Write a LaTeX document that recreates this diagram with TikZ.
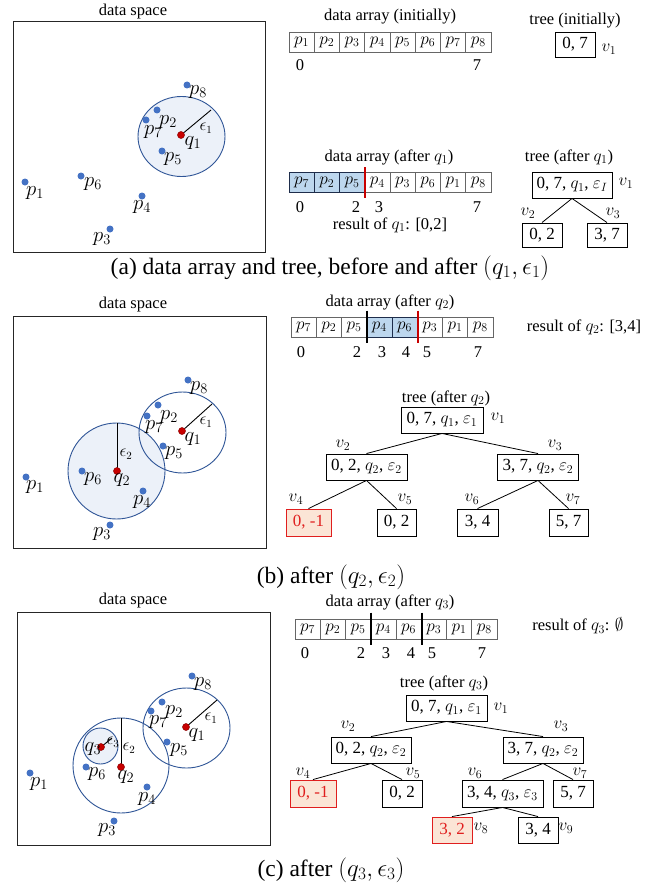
\documentclass[tikz,border=0pt]{standalone}
\usepackage{fontspec}
\setmainfont{Liberation Serif}
\usetikzlibrary{calc}

\definecolor{dotblue}{RGB}{68,114,196}
\definecolor{qred}{RGB}{200,0,0}
\definecolor{ballline}{RGB}{47,85,151}
\definecolor{ballfill}{RGB}{236,241,249}
\definecolor{cellblue}{RGB}{189,215,238}
\definecolor{cellnavy}{RGB}{30,45,75}
\definecolor{boxred}{RGB}{224,30,30}
\definecolor{boxfill}{RGB}{251,229,214}

\newcommand\fsz[1]{\fontsize{#1}{#1}\selectfont}

\tikzset{
  ttl/.style={font=\fsz{16.5}, inner sep=0},
  idx/.style={font=\fsz{16.5}, inner sep=0, text height=11, text depth=0},
  plab/.style={font=\fsz{20}, inner sep=0},
  elab/.style={font=\fsz{16}, inner sep=0},
  dot/.style={circle, fill=dotblue, inner sep=0, minimum size=7},
  qdot/.style={circle, fill=qred, draw=qred!70!black, line width=0.5, inner sep=0, minimum size=7},
  spacebox/.style={draw=black!85, line width=1},
  ball/.style={draw=ballline, line width=0.9},
  ballin/.style={fill=ballfill},
  rline/.style={line width=0.9},
  cell/.style={draw=black!60, line width=0.7, minimum width=25.25, minimum height=20, inner sep=0, font=\fsz{18}},
  hcell/.style={cell, fill=cellblue, draw=cellnavy, line width=0.9},
  tnode/.style={draw, line width=0.9, minimum height=26, inner sep=2, font=\fsz{17}},
  rnode/.style={tnode, draw=boxred, fill=boxfill, text=boxred},
  vlab/.style={font=\fsz{17}, inner sep=0},
  subcap/.style={font=\fsz{23.5}, inner sep=0},
  tedge/.style={line width=0.8},
  cutline/.style={line width=2},
  redcut/.style={cutline, draw=qred}
}

\begin{document}
\begin{tikzpicture}[x=1pt, y=-1pt]
\useasboundingbox[fill=white] (0,0) rectangle (662,888);

% ================= (a) =================
\node[ttl] (a-ds) at (133,12) {data space};
\draw[spacebox] (13,22) rectangle (265,252);
\fill[ballin] (181.5,136.5) ellipse [x radius=43.5pt, y radius=40pt];
\draw[ball] (181.5,136.5) ellipse [x radius=43.5pt, y radius=40pt];
\coordinate (a-e1) at (211,110);
\node[dot] (a-p8) at (187,85) {};
\node[dot] (a-p2) at (157,110) {};
\node[dot] (a-p7) at (146,120) {};
\node[dot] (a-p5) at (162,151) {};
\node[dot] (a-p6) at (81,176) {};
\node[dot] (a-p1) at (25,182) {};
\node[dot] (a-p4) at (142,196) {};
\node[dot] (a-p3) at (110,229) {};
\draw[rline] (181,135) -- (a-e1);
\node[qdot] (a-q1) at (181,135) {};
\node[plab] (a-l8) at (198,92) {$p_8$};
\node[plab] (a-l2) at (168,122) {$p_2$};
\node[plab] (a-l7) at (153,132) {$p_7$};
\node[plab] (a-lq1) at (193,143) {$q_1$};
\node[elab] (a-le1) at (206,128) {$\epsilon_1$};
\node[plab] (a-l5) at (173,159) {$p_5$};
\node[plab] (a-l6) at (93,184) {$p_6$};
\node[plab] (a-l1) at (35,193) {$p_1$};
\node[plab] (a-l4) at (142,207) {$p_4$};
\node[plab] (a-l3) at (102,239) {$p_3$};

% initial array
\node[ttl] (a-t1) at (390,17) {data array (initially)};
\foreach \lab [count=\i from 0] in {1,2,3,4,5,6,7,8}
  \node[cell] (a-x\i) at ({289+12.625+25.25*\i},42) {$p_{\lab}$};
\node[idx] (a-i0) at (300,65) {0};
\node[idx] (a-i7) at (477,65) {7};

% initial tree
\node[ttl] (a-t2) at (575,21) {tree (initially)};
\node[tnode, minimum width=40, minimum height=25] (a-r0) at (575,44.5) {0, 7};
\node[vlab] (a-v0) at (609,49) {$v_1$};

% array after q1
\node[ttl] (a-t3) at (389,157) {data array (after $q_1$)};
\foreach \lab/\st [count=\i from 0] in {7/hcell,2/hcell,5/hcell,4/cell,3/cell,6/cell,1/cell,8/cell}
  \node[\st] (a-y\i) at ({289+12.625+25.25*\i},182.5) {$p_{\lab}$};
\draw[redcut] ($(a-y2.north east)+(0,-5)$) -- ($(a-y2.south east)+(0,5)$);
\node[idx] (a-j0) at (300,207) {0};
\node[idx] (a-j2) at (356,207) {2};
\node[idx] (a-j3) at (379,207) {3};
\node[idx] (a-j7) at (477,207) {7};
\node[ttl] (a-res) at (390,225) {result of $q_1$: [0,2]};

% tree after q1
\node[ttl] (a-t4) at (569,157) {tree (after $q_1$)};
\node[tnode, minimum width=80] (a-r) at (572,185) {0, 7, $q_1$, $\varepsilon_I$};
\node[tnode, minimum width=40, minimum height=24] (a-r2) at (542,235) {0, 2};
\node[tnode, minimum width=40, minimum height=24] (a-r3) at (607,235) {3, 7};
\draw[tedge] (a-r.south) -- (a-r2.north);
\draw[tedge] (a-r.south) -- (a-r3.north);
\node[vlab] (a-v1) at (626,183) {$v_1$};
\node[vlab] (a-v2) at (528,213) {$v_2$};
\node[vlab] (a-v3) at (613,213) {$v_3$};

\node[subcap] (a-cap) at (330,268) {(a) data array and tree, before and after $(q_1, \epsilon_1)$};

% ================= (b) =================
\node[ttl] (b-ds) at (133,305) {data space};
\draw[spacebox] (13,316) rectangle (266,548);
\fill[ballin] (116.5,471) ellipse [x radius=48.5pt, y radius=48pt];
\draw[ball] (182.5,432.5) ellipse [x radius=43.5pt, y radius=40.5pt];
\draw[ball] (116.5,471) ellipse [x radius=48.5pt, y radius=48pt];
\coordinate (b-e1) at (212,404);
\coordinate (b-e2) at (117,423);
\node[dot] (b-p8) at (188,380) {};
\node[dot] (b-p2) at (158,405) {};
\node[dot] (b-p7) at (147,416) {};
\node[dot] (b-p5) at (163,446) {};
\node[dot] (b-p6) at (82,471) {};
\node[dot] (b-p1) at (26,477) {};
\node[dot] (b-p4) at (143,491) {};
\node[dot] (b-p3) at (110,525) {};
\draw[rline] (182,431) -- (b-e1);
\draw[rline] (117,471) -- (b-e2);
\node[qdot] (b-q1) at (182,431) {};
\node[qdot] (b-q2) at (117,471) {};
\node[plab] (b-l8) at (199,388) {$p_8$};
\node[plab] (b-l2) at (169,417) {$p_2$};
\node[plab] (b-l7) at (154,427) {$p_7$};
\node[plab] (b-lq1) at (193,439) {$q_1$};
\node[elab] (b-le1) at (206,422) {$\epsilon_1$};
\node[plab] (b-l5) at (174,453) {$p_5$};
\node[plab] (b-l6) at (93,479) {$p_6$};
\node[plab] (b-lq2) at (122,480) {$q_2$};
\node[elab] (b-le2) at (126,454) {$\epsilon_2$};
\node[plab] (b-l1) at (35,487) {$p_1$};
\node[plab] (b-l4) at (142,502) {$p_4$};
\node[plab] (b-l3) at (102,534) {$p_3$};

\node[ttl] (b-t1) at (390,302) {data array (after $q_2$)};
\foreach \lab/\st [count=\i from 0] in {7/cell,2/cell,5/cell,4/hcell,6/hcell,3/cell,1/cell,8/cell}
  \node[\st] (b-y\i) at ({291+12.625+25.25*\i},327) {$p_{\lab}$};
\draw[cutline] ($(b-y2.north east)+(0,-6)$) -- ($(b-y2.south east)+(0,6)$);
\draw[redcut] ($(b-y4.north east)+(0,-6)$) -- ($(b-y4.south east)+(0,6)$);
\node[idx] (b-j0) at (301,352) {0};
\node[idx] (b-j2) at (357,352) {2};
\node[idx] (b-j3) at (382,352) {3};
\node[idx] (b-j4) at (406,352) {4};
\node[idx] (b-j5) at (427,352) {5};
\node[idx] (b-j7) at (478,352) {7};
\node[ttl] (b-res) at (584,327) {result of $q_2$: [3,4]};

\node[ttl] (b-t2) at (446,398) {tree (after $q_2$)};
\node[tnode, minimum width=82] (b-r) at (442,420) {0, 7, $q_1$, $\varepsilon_1$};
\node[tnode, minimum width=81] (b-n2) at (366.5,467) {0, 2, $q_2$, $\varepsilon_2$};
\node[tnode, minimum width=81] (b-n3) at (538,467) {3, 7, $q_2$, $\varepsilon_2$};
\node[rnode, minimum width=45, minimum height=27] (b-n4) at (308.5,522.5) {0, -1};
\node[tnode, minimum width=39, minimum height=27] (b-n5) at (396.5,522.5) {0, 2};
\node[tnode, minimum width=41, minimum height=27] (b-n6) at (477.5,522.5) {3, 4};
\node[tnode, minimum width=39, minimum height=27] (b-n7) at (568.5,522.5) {5, 7};
\draw[tedge] (b-r.south) -- (b-n2.north);
\draw[tedge] (b-r.south) -- (b-n3.north);
\draw[tedge] (b-n2.south) -- (b-n4.north);
\draw[tedge] (b-n2.south) -- (b-n5.north);
\draw[tedge] (b-n3.south) -- (b-n6.north);
\draw[tedge] (b-n3.south) -- (b-n7.north);
\node[vlab] (b-v1) at (498,418) {$v_1$};
\node[vlab] (b-v2) at (343,445) {$v_2$};
\node[vlab] (b-v3) at (555,445) {$v_3$};
\node[vlab] (b-v4) at (296,499) {$v_4$};
\node[vlab] (b-v5) at (405,499) {$v_5$};
\node[vlab] (b-v6) at (472,499) {$v_6$};
\node[vlab] (b-v7) at (573,499) {$v_7$};

\node[subcap] (b-cap) at (331,577) {(b) after $(q_2, \epsilon_2)$};

% ================= (c) =================
\node[ttl] (c-ds) at (133,601) {data space};
\draw[spacebox] (17,612) rectangle (270,845);
\fill[ballin] (100.5,746) ellipse [x radius=17.5pt, y radius=18pt];
\draw[ball] (186.5,728) ellipse [x radius=43.5pt, y radius=40pt];
\draw[ball] (121,765.5) ellipse [x radius=48pt, y radius=47.5pt];
\draw[ball] (100.5,746) ellipse [x radius=17.5pt, y radius=18pt];
\coordinate (c-e1) at (217,700);
\coordinate (c-e2) at (121,718);
\coordinate (c-e3) at (112,738);
\node[dot] (c-p8) at (192,676) {};
\node[dot] (c-p2) at (162,702) {};
\node[dot] (c-p7) at (151,711) {};
\node[dot] (c-p5) at (167,742) {};
\node[dot] (c-p6) at (86,767) {};
\node[dot] (c-p1) at (30,773) {};
\node[dot] (c-p4) at (147,787) {};
\node[dot] (c-p3) at (114,821) {};
\draw[rline] (186,727) -- (c-e1);
\draw[rline] (121,767) -- (c-e2);
\draw[rline] (101,747) -- (c-e3);
\node[qdot] (c-q1) at (186,727) {};
\node[qdot] (c-q2) at (121,767) {};
\node[qdot] (c-q3) at (101,747) {};
\node[plab] (c-l8) at (203,684) {$p_8$};
\node[plab] (c-l2) at (174,712) {$p_2$};
\node[plab] (c-l7) at (158,722) {$p_7$};
\node[plab] (c-lq1) at (197,735) {$q_1$};
\node[elab] (c-le1) at (211,718) {$\epsilon_1$};
\node[plab] (c-l5) at (179,750) {$p_5$};
\node[plab] (c-l6) at (97,774) {$p_6$};
\node[plab] (c-lq2) at (126,777) {$q_2$};
\node[elab] (c-le2) at (129,748) {$\epsilon_2$};
\node[plab] (c-lq3) at (93,749) {$q_3$};
\node[elab] (c-le3) at (113,742) {$\epsilon_3$};
\node[plab] (c-l1) at (39,784) {$p_1$};
\node[plab] (c-l4) at (147,799) {$p_4$};
\node[plab] (c-l3) at (107,830) {$p_3$};

\node[ttl] (c-t1) at (390,602) {data array (after $q_3$)};
\foreach \lab [count=\i from 0] in {7,2,5,4,6,3,1,8}
  \node[cell] (c-y\i) at ({295+12.625+25.25*\i},629) {$p_{\lab}$};
\draw[cutline] ($(c-y2.north east)+(0,-6)$) -- ($(c-y2.south east)+(0,6)$);
\draw[cutline] ($(c-y4.north east)+(0,-6)$) -- ($(c-y4.south east)+(0,6)$);
\node[idx] (c-j0) at (305,653) {0};
\node[idx] (c-j2) at (361,653) {2};
\node[idx] (c-j3) at (386,653) {3};
\node[idx] (c-j4) at (411,653) {4};
\node[idx] (c-j5) at (432,653) {5};
\node[idx] (c-j7) at (482,653) {7};
\node[ttl] (c-res) at (578,626) {result of $q_3$: $\emptyset$};

\node[ttl] (c-t2) at (444,683) {tree (after $q_3$)};
\node[tnode, minimum width=81] (c-r) at (446.5,708) {0, 7, $q_1$, $\varepsilon_1$};
\node[tnode, minimum width=80] (c-n2) at (371,750) {0, 2, $q_2$, $\varepsilon_2$};
\node[tnode, minimum width=80] (c-n3) at (543,750) {3, 7, $q_2$, $\varepsilon_2$};
\node[rnode, minimum width=46, minimum height=27] (c-n4) at (313,793.5) {0, -1};
\node[tnode, minimum width=40, minimum height=27] (c-n5) at (402,793.5) {0, 2};
\node[tnode, minimum width=81, minimum height=27] (c-n6) at (502.5,793.5) {3, 4, $q_3$, $\varepsilon_3$};
\node[tnode, minimum width=40, minimum height=27] (c-n7) at (573,793.5) {5, 7};
\node[rnode, minimum width=40, minimum height=26] (c-n8) at (452,830) {3, 2};
\node[tnode, minimum width=40, minimum height=26] (c-n9) at (538,830) {3, 4};
\draw[tedge] (c-r.south) -- (c-n2.north);
\draw[tedge] (c-r.south) -- (c-n3.north);
\draw[tedge] (c-n2.south) -- (c-n4.north);
\draw[tedge] (c-n2.south) -- (c-n5.north);
\draw[tedge] (c-n3.south) -- (c-n6.north);
\draw[tedge] (c-n3.south) -- (c-n7.north);
\draw[tedge] (c-n6.south) -- (c-n8.north);
\draw[tedge] (c-n6.south) -- (c-n9.north);
\node[vlab] (c-v1) at (501,708) {$v_1$};
\node[vlab] (c-v2) at (348,726) {$v_2$};
\node[vlab] (c-v3) at (561,726) {$v_3$};
\node[vlab] (c-v4) at (303,773) {$v_4$};
\node[vlab] (c-v5) at (413,773) {$v_5$};
\node[vlab] (c-v6) at (475,773) {$v_6$};
\node[vlab] (c-v7) at (580,773) {$v_7$};
\node[vlab] (c-v8) at (481,828) {$v_8$};
\node[vlab] (c-v9) at (566,828) {$v_9$};

\node[subcap] (c-cap) at (331,870) {(c) after $(q_3, \epsilon_3)$};
\end{tikzpicture}
\end{document}
